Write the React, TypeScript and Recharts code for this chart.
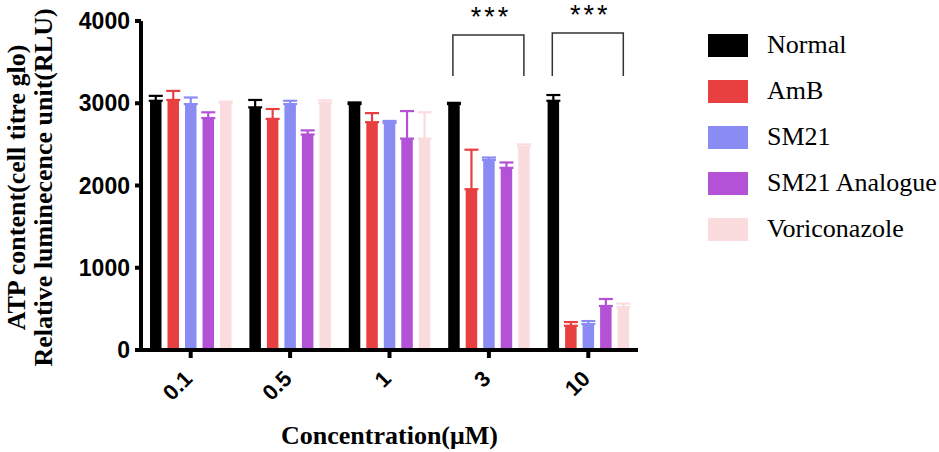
import React from "react"
import { BarChart, Bar, XAxis, YAxis, ErrorBar, Legend, ReferenceLine } from "recharts"

document.body.style.margin = "0"

const categories = ["0.1", "0.5", "1", "3", "10"]

const normal = [3030, 2950, 2990, 2990, 3030]
const normalErr = [60, 90, 20, 15, 70]
const amb = [3040, 2810, 2770, 1955, 295]
const ambErr = [110, 120, 110, 480, 45]
const sm21 = [2990, 2990, 2760, 2310, 315]
const sm21Err = [80, 40, 25, 30, 37]
const analogue = [2820, 2620, 2570, 2215, 535]
const analogueErr = [70, 50, 335, 65, 85]
const vori = [3000, 3000, 2570, 2470, 520]
const voriErr = [20, 35, 320, 30, 44]

const yTicks = [0, 1000, 2000, 3000, 4000]

// significance brackets: category, top of bracket, bottom of legs
const bracketCats = ["3", "10"]
const bracketTop = [3830, 3855]
const bracketLeg = [3330, 3330]

const series = [
  { key: "normal", name: "Normal", color: "#000000" },
  { key: "amb", name: "AmB", color: "#E83F40" },
  { key: "sm21", name: "SM21", color: "#8A8CF4" },
  { key: "analogue", name: "SM21 Analogue", color: "#B352D6" },
  { key: "vori", name: "Voriconazole", color: "#FADCDF" },
]

const data = categories.map((c, i) => ({
  name: c,
  normal: normal[i],
  normalErr: [0, normalErr[i]],
  amb: amb[i],
  ambErr: [0, ambErr[i]],
  sm21: sm21[i],
  sm21Err: [0, sm21Err[i]],
  analogue: analogue[i],
  analogueErr: [0, analogueErr[i]],
  vori: vori[i],
  voriErr: [0, voriErr[i]],
}))

const W = 939
const H = 452
const LEFT = 141
const RIGHT = 301
const TOP = 21
const XH = 102
const BAR = 11.5
const GAP = 6
// distance from category centre to the first / last bar centre
const EDGE = 2 * (BAR + GAP)

const sans = "'Liberation Sans', Arial, sans-serif"
const serif = "'Liberation Serif', 'Times New Roman', serif"

const XTick = (props: any) => {
  const { x, y, payload } = props
  const tx = x + 3
  const ty = y + 22
  return (
    <text x={tx} y={ty} transform={`rotate(-45 ${tx} ${ty})`} textAnchor="end"
      fontFamily={sans} fontWeight="bold" fontSize={22} fill="#000">
      {payload.value}
    </text>
  )
}

const YLabel = (props: any) => {
  const vb = props.viewBox
  const cy = vb.y + vb.height / 2 + 2
  return (
    <g fontFamily={serif} fontWeight="bold" fontSize={26} fill="#000">
      <text x={25} y={cy} transform={`rotate(-90 25 ${cy})`} textAnchor="middle">
        ATP content(cell titre glo)
      </text>
      <text x={52} y={cy} transform={`rotate(-90 52 ${cy})`} textAnchor="middle">
        Relative luminecence unit(RLU)
      </text>
    </g>
  )
}

const XLabel = (props: any) => {
  const vb = props.viewBox
  return (
    <text x={vb.x + vb.width / 2} y={vb.y + 94} textAnchor="middle"
      fontFamily={serif} fontWeight="bold" fontSize={26} fill="#000">
      Concentration(μM)
    </text>
  )
}

const Stars = (props: any) => {
  const vb = props.viewBox
  return (
    <text x={vb.x + vb.width / 2 + 2} y={vb.y - 9} textAnchor="middle"
      fontFamily={sans} fontSize={27} letterSpacing={3} fill="#000">
      ***
    </text>
  )
}

// vertical segment at the category centre, drawn as a bracket from first to last bar
const Bracket = (props: any) => {
  const { x1, y1, y2 } = props
  const lo = Math.max(y1, y2)
  const hi = Math.min(y1, y2)
  const a = x1 - EDGE - 1
  const b = x1 + EDGE
  return <path d={`M${a},${lo}V${hi}H${b}V${lo}`} fill="none" stroke="#333" strokeWidth={1.5} />
}

const LegendBox = () => (
  <div style={{ width: 231 }}>
    {series.map((s) => (
      <div key={s.key} style={{ display: "flex", alignItems: "center", height: 46 }}>
        <span style={{ width: 40, height: 23, background: s.color, display: "inline-block" }} />
        <span style={{ marginLeft: 19, fontFamily: serif, fontSize: 26, color: "#000", lineHeight: "26px" }}>
          {s.name}
        </span>
      </div>
    ))}
  </div>
)

export default function App() {
  return (
    <BarChart width={W} height={H} data={data} barSize={BAR} barGap={GAP}
      margin={{ top: TOP, right: RIGHT - 231, bottom: 0, left: 0 }}>
      <XAxis dataKey="name" height={XH} tickSize={8} tickMargin={0} tick={<XTick />}
        axisLine={{ stroke: "#000", strokeWidth: 4 }} tickLine={{ stroke: "#000", strokeWidth: 4 }}
        label={{ content: <XLabel /> }} />
      <YAxis width={LEFT} domain={[0, 4000]} ticks={yTicks} interval={0} tickSize={6} tickMargin={5}
        tick={{ fontFamily: sans, fontWeight: "bold", fontSize: 23, fill: "#000" }}
        axisLine={{ stroke: "#000", strokeWidth: 4 }} tickLine={{ stroke: "#000", strokeWidth: 4 }}
        label={{ content: <YLabel /> }} />
      <Legend layout="vertical" align="right" verticalAlign="top" content={<LegendBox />}
        wrapperStyle={{ left: 708, right: "auto", top: 22 }} />
      {series.map((s) => (
        <Bar key={s.key} dataKey={s.key} name={s.name} fill={s.color} isAnimationActive={false}>
          <ErrorBar dataKey={s.key + "Err"} direction="y" width={7} strokeWidth={2.2} stroke={s.color} />
        </Bar>
      ))}
      {bracketCats.map((c, i) => (
        <ReferenceLine key={c} ifOverflow="visible" shape={<Bracket />} label={{ content: <Stars /> }}
          segment={[{ x: c, y: bracketLeg[i] }, { x: c, y: bracketTop[i] }]} />
      ))}
    </BarChart>
  )
}
